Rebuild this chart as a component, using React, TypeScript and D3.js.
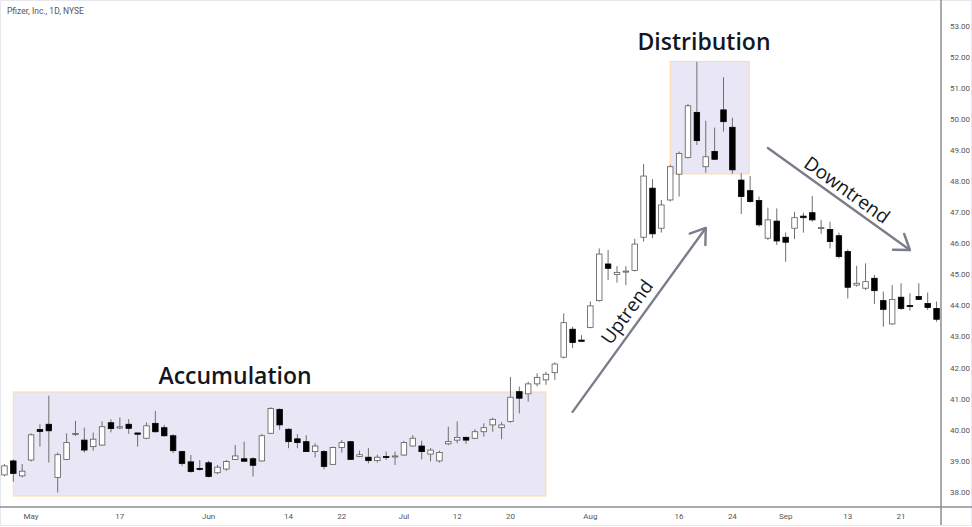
import React from "react";
import * as d3 from "d3";

const dates: string[] = [
  "2021-04-28","2021-04-29","2021-04-30",
  "2021-05-03","2021-05-04","2021-05-05","2021-05-06","2021-05-07","2021-05-10","2021-05-11","2021-05-12","2021-05-13","2021-05-14",
  "2021-05-17","2021-05-18","2021-05-19","2021-05-20","2021-05-21","2021-05-24","2021-05-25","2021-05-26","2021-05-27","2021-05-28",
  "2021-06-01","2021-06-02","2021-06-03","2021-06-04","2021-06-07","2021-06-08","2021-06-09","2021-06-10","2021-06-11",
  "2021-06-14","2021-06-15","2021-06-16","2021-06-17","2021-06-18","2021-06-21","2021-06-22","2021-06-23","2021-06-24","2021-06-25",
  "2021-06-28","2021-06-29","2021-06-30",
  "2021-07-01","2021-07-02","2021-07-06","2021-07-07","2021-07-08","2021-07-09","2021-07-12","2021-07-13","2021-07-14","2021-07-15",
  "2021-07-16","2021-07-19","2021-07-20","2021-07-21","2021-07-22","2021-07-23","2021-07-26","2021-07-27","2021-07-28","2021-07-29","2021-07-30",
  "2021-08-02","2021-08-03","2021-08-04","2021-08-05","2021-08-06","2021-08-09","2021-08-10","2021-08-11","2021-08-12","2021-08-13",
  "2021-08-16","2021-08-17","2021-08-18","2021-08-19","2021-08-20","2021-08-23","2021-08-24","2021-08-25","2021-08-26","2021-08-27",
  "2021-08-30","2021-08-31",
  "2021-09-01","2021-09-02","2021-09-03","2021-09-07","2021-09-08","2021-09-09","2021-09-10","2021-09-13","2021-09-14","2021-09-15",
  "2021-09-16","2021-09-17","2021-09-20","2021-09-21","2021-09-22","2021-09-23","2021-09-24","2021-09-27",
];

const opens: number[] = [
  38.55, 39.0, 38.52,
  39.03, 40.01, 40.18, 38.47, 39.05, 39.86, 39.67, 39.46, 39.51, 40.23,
  40.06, 40.18, 39.90, 39.73, 40.21, 40.07, 39.81, 39.30, 38.97, 38.76,
  38.94, 38.62, 38.74, 39.05, 39.07, 39.07, 39.00, 39.89, 40.66,
  40.02, 39.71, 39.62, 39.30, 39.30, 38.89, 39.43, 39.62, 39.14, 39.12,
  39.01, 39.14, 39.14,
  39.19, 39.48, 39.48, 39.22, 39.00, 39.55, 39.67, 39.76, 39.73, 39.94,
  40.16, 40.07, 40.27, 41.23, 41.16, 41.48, 41.61, 41.84, 42.34, 43.24, 42.89,
  43.30, 44.16, 45.34, 45.00, 45.08, 45.13, 46.20, 47.78, 46.49, 47.40,
  48.23, 48.77, 50.22, 48.47, 48.96, 50.30, 49.74, 48.04, 47.70, 47.38,
  46.17, 46.72,
  46.20, 46.49, 46.88, 46.99, 46.48, 46.45, 46.25, 45.74, 44.66, 44.56,
  44.88, 44.16, 43.41, 44.27, 44.00, 44.29, 44.07, 43.91,
];

const highs: number[] = [
  38.90, 39.05, 38.90,
  39.89, 40.18, 41.10, 39.27, 39.89, 40.29, 40.07, 39.91, 40.27, 40.34,
  40.40, 40.35, 39.91, 40.24, 40.61, 40.16, 39.86, 39.33, 39.19, 39.03,
  39.00, 38.87, 39.03, 39.51, 39.62, 39.12, 39.87, 40.73, 40.69,
  40.05, 39.86, 39.83, 39.57, 39.35, 39.46, 39.67, 39.64, 39.33, 39.41,
  39.20, 39.30, 39.30,
  39.64, 39.83, 39.65, 39.41, 39.33, 40.10, 40.27, 39.78, 40.02, 40.21,
  40.39, 40.25, 41.70, 41.39, 41.55, 41.82, 41.87, 42.17, 43.75, 43.32, 43.05,
  44.13, 45.84, 45.79, 45.27, 45.27, 46.15, 48.56, 48.07, 47.40, 48.53,
  48.96, 50.49, 51.85, 49.95, 49.73, 51.35, 50.05, 48.26, 48.17, 47.51,
  47.15, 47.13,
  46.35, 47.02, 46.99, 47.53, 46.76, 46.70, 46.35, 45.81, 45.28, 45.36,
  44.99, 44.45, 44.66, 44.72, 44.40, 44.72, 44.42, 44.13,
];

const lows: number[] = [
  38.50, 38.33, 38.47,
  38.98, 39.46, 38.95, 37.98, 39.03, 39.80, 39.27, 39.33, 39.49, 39.92,
  40.02, 39.87, 39.46, 39.70, 39.91, 39.78, 39.25, 38.84, 38.62, 38.69,
  38.47, 38.57, 38.68, 39.03, 38.99, 38.50, 38.98, 39.87, 40.00,
  39.41, 39.41, 39.30, 39.11, 38.73, 38.87, 39.27, 39.03, 39.12, 38.92,
  38.95, 39.03, 38.87,
  39.16, 39.46, 39.05, 38.98, 38.95, 39.51, 39.57, 39.55, 39.70, 39.78,
  39.94, 39.70, 40.23, 40.53, 40.91, 41.40, 41.45, 41.61, 42.30, 42.63, 42.84,
  43.27, 44.13, 44.82, 44.74, 44.66, 45.10, 46.06, 46.17, 46.35, 47.35,
  47.51, 48.74, 49.17, 48.28, 48.69, 49.60, 48.24, 46.95, 47.31, 46.54,
  46.11, 45.95,
  45.41, 46.14, 46.35, 46.70, 46.31, 45.84, 45.52, 44.23, 44.61, 44.50,
  44.05, 43.32, 43.38, 43.86, 43.84, 44.18, 43.86, 43.48,
];

const closes: number[] = [
  38.84, 38.60, 38.67,
  39.84, 39.95, 39.97, 39.20, 39.59, 39.88, 39.35, 39.70, 40.10, 40.04,
  40.10, 40.05, 39.86, 40.13, 39.94, 39.81, 39.33, 38.92, 38.66, 38.73,
  38.50, 38.80, 38.98, 39.16, 38.99, 38.86, 39.81, 40.69, 40.16,
  39.62, 39.59, 39.30, 39.48, 38.82, 39.43, 39.59, 39.05, 39.20, 39.01,
  39.12, 39.11, 39.16,
  39.59, 39.73, 39.30, 39.35, 39.27, 39.62, 39.76, 39.67, 39.94, 40.07,
  40.34, 40.16, 41.05, 41.02, 41.48, 41.69, 41.79, 42.12, 43.45, 42.81, 42.85,
  43.99, 45.66, 45.20, 45.07, 45.11, 45.98, 48.17, 46.31, 47.24, 48.47,
  48.90, 50.43, 49.31, 48.79, 48.71, 49.92, 48.37, 47.51, 47.35, 46.60,
  46.76, 46.08,
  46.04, 46.83, 46.83, 46.76, 46.51, 46.06, 45.58, 44.59, 44.72, 44.77,
  44.48, 43.88, 44.20, 43.91, 43.97, 44.20, 43.94, 43.56,
];

const tickDates: string[] = [
  "2021-05-03","2021-05-17","2021-06-01","2021-06-14","2021-06-22","2021-07-01","2021-07-12",
  "2021-07-20","2021-08-02","2021-08-16","2021-08-24","2021-09-01","2021-09-13","2021-09-21",
];
const tickLabels: string[] = ["May","17","Jun","14","22","Jul","12","20","Aug","16","24","Sep","13","21"];

const priceTicks: number[] = [38,39,40,41,42,43,44,45,46,47,48,49,50,51,52,53];

// annotation zones (date range + price range)
const accumZone = { from: "2021-04-29", to: "2021-07-26", lo: 37.87, hi: 41.22 };
const distZone = { from: "2021-08-12", to: "2021-08-24", lo: 48.24, hi: 51.86 };
const upArrow = { from: ["2021-07-29", 40.58], to: ["2021-08-19", 46.5] } as const;
const downArrow = { from: ["2021-08-30", 49.07], to: ["2021-09-22", 45.79] } as const;

const W = 972;
const H = 527;
const AXIS_X = 941;
const AXIS_Y = 507;
const FONT = "'Open Sans', 'DejaVu Sans', sans-serif";

export default function App() {
  const x = d3.scalePoint<string>().domain(dates).range([0, AXIS_X]).padding(0.5);
  const step = x.step();
  const y = d3.scaleLinear().domain([38, 53]).range([492, 26]);
  const bw = step * 0.62;
  const fmt = d3.format(".2f");

  const candles = dates.map((d, i) => ({
    d, o: opens[i], h: highs[i], l: lows[i], c: closes[i],
  }));

  const acc = {
    x: x(accumZone.from) as number,
    y: y(accumZone.hi),
    w: (x(accumZone.to) as number) - (x(accumZone.from) as number),
    h: y(accumZone.lo) - y(accumZone.hi),
  };
  const dis = {
    x: (x(distZone.from) as number) + step * 1.0,
    y: y(distZone.hi),
    w: 79,
    h: y(distZone.lo) - y(distZone.hi),
  };

  const arrow = (a: any) => {
    const x0 = x(a.from[0]) as number, y0 = y(a.from[1]);
    const x1 = x(a.to[0]) as number, y1 = y(a.to[1]);
    const ang = Math.atan2(y1 - y0, x1 - x0);
    const L = 17, spread = Math.PI / 5.2;
    const h1 = [x1 - L * Math.cos(ang - spread), y1 - L * Math.sin(ang - spread)];
    const h2 = [x1 - L * Math.cos(ang + spread), y1 - L * Math.sin(ang + spread)];
    const line = d3.line();
    return {
      x0, y0, x1, y1, ang: (ang * 180) / Math.PI,
      shaft: line([[x0, y0], [x1, y1]]) as string,
      head: line([h1 as [number, number], [x1, y1], h2 as [number, number]]) as string,
    };
  };
  const up = arrow(upArrow);
  const down = arrow(downArrow);

  return (
    <svg
      width={W}
      height={H}
      style={{ position: "absolute", left: 0, top: 0, background: "#fff" }}
      fontFamily={FONT}
    >
      <rect x={0.5} y={0.5} width={W - 1} height={H - 2} fill="#fff" stroke="#e6e8ee" />

      {/* zones */}
      <rect x={acc.x} y={acc.y} width={acc.w} height={acc.h} fill="#e9e6f6" stroke="#ffd9a3" strokeWidth={1} />
      <rect x={dis.x} y={dis.y} width={dis.w} height={dis.h} fill="#e9e6f6" stroke="#ffd9a3" strokeWidth={1} />

      {/* candles */}
      {candles.map((k) => {
        const cx = x(k.d) as number;
        const up = k.c >= k.o;
        const top = y(Math.max(k.o, k.c));
        const bot = y(Math.min(k.o, k.c));
        const bh = Math.max(1, bot - top);
        return (
          <g key={k.d}>
            <line x1={cx} x2={cx} y1={y(k.h)} y2={y(k.l)} stroke="#6f6f6f" strokeWidth={1} />
            <rect
              x={cx - bw / 2}
              y={top}
              width={bw}
              height={bh}
              fill={up ? "#ffffff" : "#000000"}
              stroke={up ? "#5a5a5a" : "#000000"}
              strokeWidth={0.8}
            />
          </g>
        );
      })}

      {/* arrows */}
      <g stroke="#7b7e8a" strokeWidth={2.4} fill="none" strokeLinecap="round" strokeLinejoin="round">
        <path d={up.shaft} />
        <path d={up.head} />
        <path d={down.shaft} />
        <path d={down.head} />
      </g>

      {/* annotation text */}
      <text x={235} y={384} textAnchor="middle" fontSize={23} fontWeight={600} fill="#131722">
        Accumulation
      </text>
      <text x={704} y={50} textAnchor="middle" fontSize={23} fontWeight={600} fill="#131722">
        Distribution
      </text>
      <text
        transform={`translate(627,312) rotate(${up.ang})`}
        textAnchor="middle"
        dy="0.35em"
        fontSize={19}
        fontWeight={500}
        fill="#131722"
      >
        Uptrend
      </text>
      <text
        transform={`translate(847,190) rotate(${down.ang})`}
        textAnchor="middle"
        dy="0.35em"
        fontSize={19}
        fontWeight={500}
        fill="#131722"
      >
        Downtrend
      </text>

      {/* axes */}
      <line x1={0} x2={W} y1={AXIS_Y} y2={AXIS_Y} stroke="#8b8e96" strokeWidth={1.5} />
      <line x1={AXIS_X} x2={AXIS_X} y1={0} y2={H - 2} stroke="#8b8e96" strokeWidth={1.5} />
      {priceTicks.map((p) => (
        <text key={p} x={950} y={y(p)} dy="0.35em" fontSize={8} fill="#555" fontFamily="Roboto, sans-serif">
          {fmt(p)}
        </text>
      ))}
      {tickDates.map((d, i) => (
        <text key={d} x={x(d) as number} y={519} textAnchor="middle" fontSize={8} fill="#555" fontFamily="Roboto, sans-serif">
          {tickLabels[i]}
        </text>
      ))}

      <text x={7} y={14} fontSize={8.5} fill="#555" fontFamily="Roboto, sans-serif">
        Pfizer, Inc., 1D, NYSE
      </text>
    </svg>
  );
}
